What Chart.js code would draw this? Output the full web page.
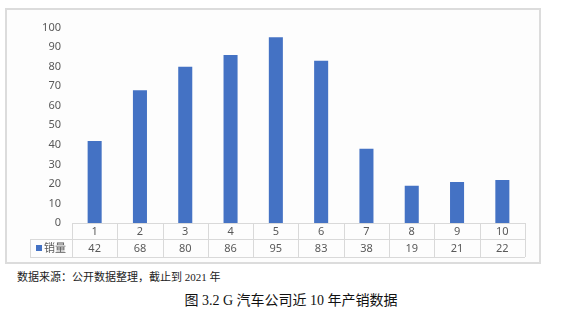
<!DOCTYPE html>
<html>
<head>
<meta charset="utf-8">
<script src="https://cdn.jsdelivr.net/npm/chart.js@4/dist/chart.umd.min.js"></script>
<style>
  body { margin: 0; width: 562px; height: 317px; background: #fff; position: relative; overflow: hidden; }
  #box { position: absolute; left: 5px; top: 8px; width: 532px; height: 252px; border: 2px solid #dcdcdc; background: #fdfdfd; }
  #source { position: absolute; left: 17px; top: 268px; font: 11px "Liberation Serif", "Noto Sans CJK SC"; color: #222; }
  #caption { position: absolute; left: 0; width: 582px; top: 289px; text-align: center; font: 14px "Liberation Serif", "Noto Sans CJK SC"; color: #111; }
</style>
</head>
<body>
<div id="box"><canvas id="chart" width="532" height="252"></canvas></div>
<div id="source">数据来源：公开数据整理，截止到 2021 年</div>
<div id="caption">图 3.2 G 汽车公司近 10 年产销数据</div>
<script>
const years = ['1', '2', '3', '4', '5', '6', '7', '8', '9', '10'];
const sales = [42, 68, 80, 86, 95, 83, 38, 19, 21, 22];
const seriesName = '销量';
const barColor = '#4472c4';
const gridColor = '#d9d9d9';
const textColor = '#595959';
const font = '11px "Noto Sans", "Noto Sans CJK SC"';

// data table under the plot, drawn from the x scale
const dataTable = {
    id: 'dataTable',
    afterDraw(chart) {
        const ctx = chart.ctx;
        const x = chart.scales.x;
        const y0 = chart.scales.y.getPixelForValue(0);
        const r1 = y0 + 16, r2 = r1 + 18;
        const half = (x.getPixelForValue(1) - x.getPixelForValue(0)) / 2;
        const left = x.getPixelForValue(0) - half;
        const right = x.getPixelForValue(years.length - 1) + half;
        const legendLeft = 23;
        ctx.save();
        ctx.strokeStyle = gridColor;
        ctx.lineWidth = 1;
        ctx.beginPath();
        ctx.moveTo(left, y0 + 0.5); ctx.lineTo(right, y0 + 0.5);
        ctx.moveTo(legendLeft, r1 + 0.5); ctx.lineTo(right, r1 + 0.5);
        ctx.moveTo(legendLeft, r2 + 0.5); ctx.lineTo(right, r2 + 0.5);
        ctx.moveTo(legendLeft + 0.5, r1); ctx.lineTo(legendLeft + 0.5, r2);
        for (let i = 0; i <= years.length; i++) {
            const px = Math.round(left + i * half * 2) + 0.5;
            ctx.moveTo(px, y0); ctx.lineTo(px, r2);
        }
        ctx.stroke();
        ctx.font = font;
        ctx.fillStyle = textColor;
        ctx.textAlign = 'center';
        ctx.textBaseline = 'middle';
        years.forEach((c, i) => {
            const px = x.getPixelForValue(i);
            ctx.fillText(c, px, (y0 + r1) / 2 + 1);
            ctx.fillText(String(sales[i]), px, (r1 + r2) / 2 + 1);
        });
        ctx.fillStyle = barColor;
        ctx.fillRect(legendLeft + 6, (r1 + r2) / 2 - 3, 6, 6);
        ctx.fillStyle = textColor;
        ctx.textAlign = 'left';
        ctx.fillText(seriesName, legendLeft + 14, (r1 + r2) / 2 + 1);
        ctx.restore();
    }
};

new Chart(document.getElementById('chart'), {
    type: 'bar',
    data: {
        labels: years,
        datasets: [{
            label: seriesName,
            data: sales,
            backgroundColor: barColor,
            categoryPercentage: 1,
            barPercentage: 0.31
        }]
    },
    options: {
        responsive: false,
        animation: false,
        layout: { padding: { top: 13, right: 14, bottom: 39, left: 0 } },
        plugins: { legend: { display: false }, tooltip: { enabled: false } },
        scales: {
            x: { display: false },
            y: {
                min: 0, max: 100,
                afterFit: s => { s.width = 65; },
                border: { display: false },
                grid: { display: false, drawTicks: false },
                ticks: { stepSize: 10, padding: 11, color: textColor, font: { family: '"Noto Sans"', size: 11 } }
            }
        }
    },
    plugins: [dataTable]
});
</script>
</body>
</html>
